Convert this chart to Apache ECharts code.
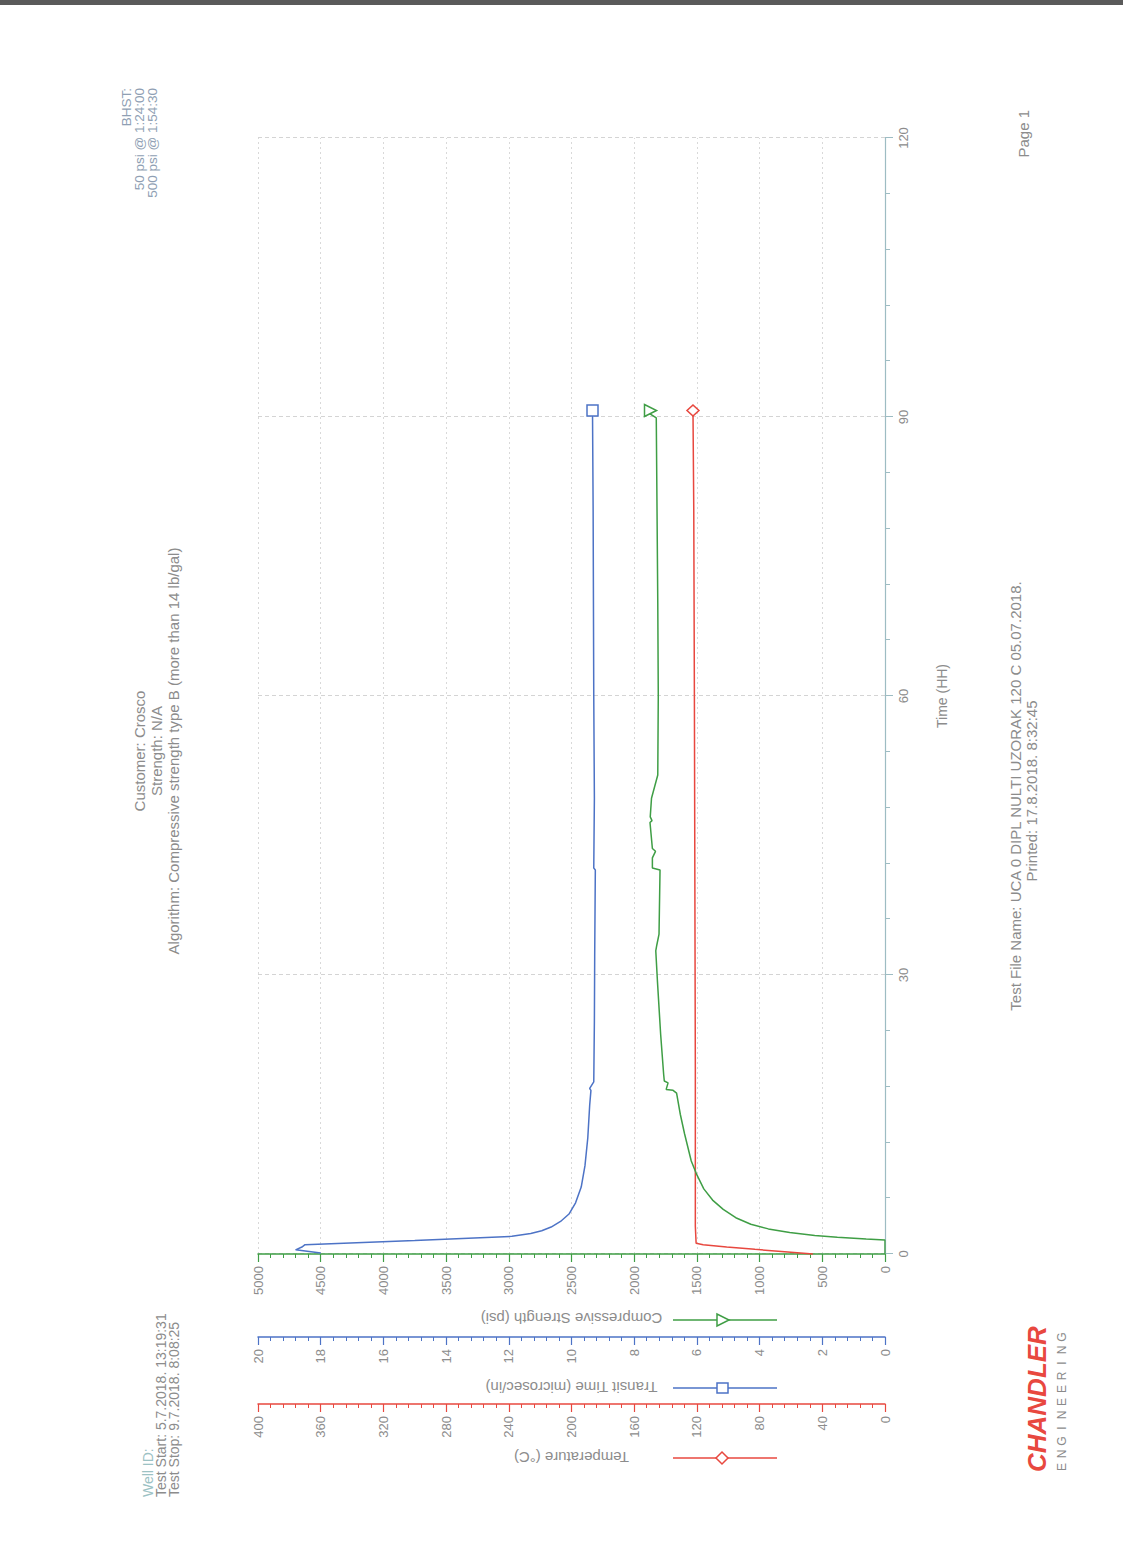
<!DOCTYPE html>
<html><head><meta charset="utf-8">
<script src="https://cdn.jsdelivr.net/npm/echarts@6/dist/echarts.min.js"></script>
<style>
html,body{margin:0;padding:0;background:#fff;overflow:hidden;width:1123px;height:1551px;}
#chart{position:absolute;left:0;top:0;width:1551px;height:1123px;transform-origin:0 0;transform:rotate(-90deg) translateX(-1551px);background:#fff;}
</style></head><body><div id="chart"></div>
<script>
// ---- data (time in hours) ----
const tempHours   = [0, 0.25, 0.5, 0.75, 1.0, 1.15, 3, 20, 40, 60, 80, 90.7];
const tempValues  = [46, 64, 83, 101, 116, 120.5, 121, 121, 121.3, 121.6, 122, 122.5];

const transitHours  = [0.1, 0.45, 0.75, 1.0, 1.45, 1.9, 2.2, 2.5, 2.9, 3.5, 4.3, 5.5, 7.2, 9.5, 12.5, 16, 17.6, 17.8, 18.5, 25, 32, 41.3, 41.5, 49, 60, 70, 80, 90.7];
const transitValues = [18.0, 18.8, 18.6, 18.5, 15.0, 11.9, 11.3, 10.95, 10.65, 10.35, 10.08, 9.87, 9.69, 9.57, 9.48, 9.42, 9.38, 9.42, 9.29, 9.27, 9.26, 9.24, 9.29, 9.27, 9.29, 9.3, 9.31, 9.33];

const strengthHours  = [0, 1.5, 1.6, 1.8, 2.0, 2.3, 2.7, 3.2, 3.9, 4.8, 5.8, 7.0, 8.5, 10, 12.9, 15, 17.3, 17.6, 17.7, 18.4, 18.6, 19.3, 23.6, 29.4, 32.6, 33.2, 34.4, 41.3, 41.5, 42.6, 43.3, 43.6, 46.4, 46.6, 47, 49, 51.5, 60, 70, 80, 89.9, 90.4, 90.7];
const strengthValues = [0, 0, 150, 380, 560, 760, 930, 1070, 1190, 1290, 1375, 1445, 1500, 1545, 1598, 1632, 1662, 1690, 1745, 1730, 1760, 1765, 1789, 1815, 1828, 1820, 1802, 1794, 1855, 1855, 1830, 1855, 1874, 1858, 1872, 1862, 1812, 1808, 1812, 1818, 1824, 1880, 1870];

const timeTicks = [0, 30, 60, 90, 120];
const seriesNames = ['Temperature (°C)', 'Transit Time (microsec/in)', 'Compressive Strength (psi)'];
const logoSub = 'ENGINEERING';

const cRed = '#e8483f', cBlue = '#4d73c6', cGreen = '#3f9e45';
const txt = '#8c8c8c';
const FONT = 'Liberation Sans, Arial, sans-serif';

function pairs(xs, ys, marker) {
  return xs.map((x, i) => {
    if (i === xs.length - 1) return Object.assign({value: [x, ys[i]]}, marker);
    return [x, ys[i]];
  });
}

const chart = echarts.init(document.getElementById('chart'), null, {renderer: 'svg', width: 1551, height: 1123});

function valueAxis(name, max, interval, color, offset, gap, split) {
  return {
    type: 'value', position: 'left', offset: offset, min: 0, max: max, interval: interval,
    name: name, nameLocation: 'middle', nameRotate: 90, nameGap: gap,
    nameTextStyle: {color: txt, fontSize: 15, fontFamily: FONT},
    axisLine: {show: true, lineStyle: {color: color, width: 1.5}},
    axisTick: {show: true, length: 8, lineStyle: {color: color, width: 1.2}},
    minorTick: {show: true, splitNumber: 5, length: 4, lineStyle: {color: color, width: 1}},
    axisLabel: {color: txt, fontSize: 13, fontFamily: FONT, margin: 12, formatter: v => String(v)},
    splitLine: {show: split, lineStyle: {color: '#d9d9d9', type: [2, 3], width: 1}},
    minorSplitLine: {show: false}
  };
}

const graphics = [
  // scanner edge
  {type: 'rect', shape: {x: 1546, y: 0, width: 5, height: 1123}, style: {fill: '#5a5a5a'}, silent: true},
  // header left
  {type: 'text', x: 54, y: 148, style: {text: 'Well ID:', fill: '#9cc2c4', font: '14px ' + FONT, textAlign: 'left', textVerticalAlign: 'middle'}},
  {type: 'text', x: 54, y: 161, style: {text: 'Test Start: 5.7.2018. 13:19:31', fill: txt, font: '14px ' + FONT, textAlign: 'left', textVerticalAlign: 'middle'}},
  {type: 'text', x: 54, y: 174, style: {text: 'Test Stop: 9.7.2018. 8:08:25', fill: txt, font: '14px ' + FONT, textAlign: 'left', textVerticalAlign: 'middle'}},
  // header right
  {type: 'text', x: 1463, y: 126, style: {text: 'BHST:', fill: '#8f9fb4', font: '13.5px ' + FONT, textAlign: 'right', textVerticalAlign: 'middle'}},
  {type: 'text', x: 1463, y: 139, style: {text: '50 psi @ 1:24:00', fill: '#8f9fb4', font: '13.5px ' + FONT, textAlign: 'right', textVerticalAlign: 'middle'}},
  {type: 'text', x: 1463, y: 152, style: {text: '500 psi @ 1:54:30', fill: '#8f9fb4', font: '13.5px ' + FONT, textAlign: 'right', textVerticalAlign: 'middle'}},
  // footer
  {type: 'text', x: 755, y: 1015, style: {text: 'Test File Name: UCA 0 DIPL NULTI UZORAK 120 C 05.07.2018.', fill: txt, font: '15px ' + FONT, textAlign: 'center', textVerticalAlign: 'middle'}},
  {type: 'text', x: 760, y: 1031, style: {text: 'Printed: 17.8.2018. 8:32:45', fill: txt, font: '15px ' + FONT, textAlign: 'center', textVerticalAlign: 'middle'}},
  {type: 'text', x: 1441, y: 1023, style: {text: 'Page 1', fill: txt, font: '15px ' + FONT, textAlign: 'right', textVerticalAlign: 'middle'}},
  // logo
  {type: 'text', x: 79, y: 1037, style: {text: 'CHANDLER', fill: cRed, font: 'italic bold 26px ' + FONT, textAlign: 'left', textVerticalAlign: 'middle'}},
  // legend keys next to axis names
  {type: 'line', shape: {x1: 231, y1: 673, x2: 231, y2: 777}, style: {stroke: cGreen, lineWidth: 1.5}},
  {type: 'polygon', shape: {points: [[237, 717], [225, 717], [231, 729]]}, style: {fill: '#fff', stroke: cGreen, lineWidth: 1.5}},
  {type: 'line', shape: {x1: 163, y1: 673, x2: 163, y2: 777}, style: {stroke: cBlue, lineWidth: 1.5}},
  {type: 'rect', shape: {x: 158, y: 717, width: 10, height: 11}, style: {fill: '#fff', stroke: cBlue, lineWidth: 1.5}},
  {type: 'line', shape: {x1: 93, y1: 673, x2: 93, y2: 777}, style: {stroke: cRed, lineWidth: 1.5}},
  {type: 'polygon', shape: {points: [[93, 716], [99, 722], [93, 728], [87, 722]]}, style: {fill: '#fff', stroke: cRed, lineWidth: 1.5}}
];
logoSub.split('').forEach((ch, i) => {
  graphics.push({type: 'text', x: 84 + i * 13, y: 1062, style: {text: ch, fill: '#8a8a8a', font: '12px ' + FONT, textAlign: 'center', textVerticalAlign: 'middle'}});
});

const option = {
  backgroundColor: '#ffffff',
  animation: false,
  title: [{
    text: 'Customer: Crosco\nStrength: N/A\nAlgorithm: Compressive strength type B (more than 14 lb/gal)',
    left: 800, top: 131, textAlign: 'center', padding: 0,
    textStyle: {color: txt, fontSize: 15, fontWeight: 'normal', fontFamily: FONT, lineHeight: 17, align: 'center'}
  }],
  grid: {left: 297, right: 138, top: 258, bottom: 238, containLabel: false, outerBoundsMode: 'none'},
  xAxis: {
    type: 'value', min: 0, max: 120, interval: 30,
    name: 'Time (HH)', nameLocation: 'middle', nameGap: 50,
    nameTextStyle: {color: txt, fontSize: 14, fontFamily: FONT},
    axisLine: {show: true, onZero: false, lineStyle: {color: '#9dbcc3', width: 1.2}},
    axisTick: {show: true, length: 8, lineStyle: {color: '#9dbcc3'}},
    minorTick: {show: true, splitNumber: 5, length: 5, lineStyle: {color: '#9dbcc3'}},
    axisLabel: {color: txt, fontSize: 13, fontFamily: FONT, margin: 12, customValues: timeTicks},
    splitLine: {show: true, lineStyle: {color: '#d4d4d4', type: [4, 3], width: 1}}
  },
  yAxis: [
    valueAxis(seriesNames[2], 5000, 500, cGreen, 0, 57, true),
    valueAxis(seriesNames[1], 20, 2, cBlue, 83, 43, false),
    valueAxis(seriesNames[0], 400, 40, cRed, 150, 46, false)
  ],
  series: [
    {name: seriesNames[0], type: 'line', yAxisIndex: 2, symbol: 'none', showSymbol: true, z: 3,
     lineStyle: {color: cRed, width: 1.5}, itemStyle: {color: '#fff', borderColor: cRed, borderWidth: 1.5},
     data: pairs(tempHours, tempValues, {symbol: 'diamond', symbolSize: [11, 12]})},
    {name: seriesNames[1], type: 'line', yAxisIndex: 1, symbol: 'none', showSymbol: true, z: 3,
     lineStyle: {color: cBlue, width: 1.5}, itemStyle: {color: '#fff', borderColor: cBlue, borderWidth: 1.5},
     data: pairs(transitHours, transitValues, {symbol: 'rect', symbolSize: 11})},
    {name: seriesNames[2], type: 'line', yAxisIndex: 0, symbol: 'none', showSymbol: true, z: 3,
     lineStyle: {color: cGreen, width: 1.5}, itemStyle: {color: '#fff', borderColor: cGreen, borderWidth: 1.5},
     data: pairs(strengthHours, strengthValues, {symbol: 'triangle', symbolSize: 12, symbolRotate: 180})}
  ],
  graphic: graphics
};
chart.setOption(option);
</script>
</body></html>
